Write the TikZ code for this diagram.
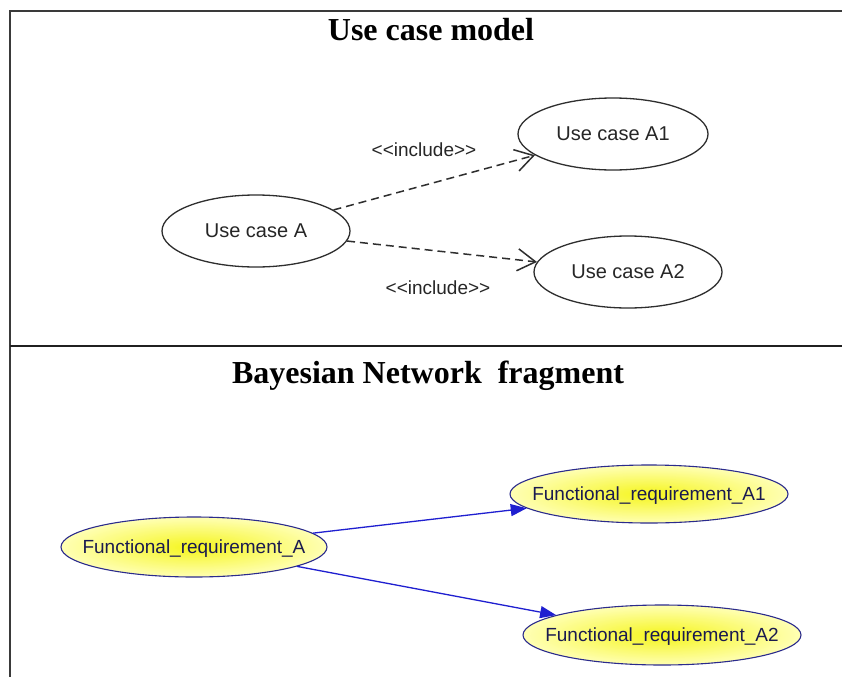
\documentclass[tikz,border=0pt]{standalone}
\usepackage{fontspec}
\setmainfont{Liberation Serif}
\setsansfont{Liberation Sans}
\usetikzlibrary{arrows.meta,shapes.geometric}
\definecolor{frameC}{HTML}{3A3A3A}
\definecolor{sepC}{HTML}{202020}
\definecolor{ucLine}{HTML}{2E2E2E}
\definecolor{bnBorder}{HTML}{2B2B8C}
\definecolor{bnArrow}{HTML}{1F1FD0}
\definecolor{bnText}{HTML}{1A1A50}
\definecolor{yelIn}{HTML}{F5F51E}
\definecolor{yelOut}{HTML}{FFFFB4}
\begin{document}
\begin{tikzpicture}[x=1pt,y=-1pt,
  frameline/.style={draw=frameC, line width=2pt},
  sepline/.style={draw=sepC, line width=2pt},
  titletext/.style={font=\fontsize{32}{36}\selectfont\bfseries, anchor=base, inner sep=0pt},
  uc/.style={ellipse, draw=ucLine, line width=1.3pt, inner sep=0pt,
    minimum width=188pt, minimum height=72pt,
    font=\sffamily\fontsize{20}{24}\selectfont, text=black!85},
  incl/.style={draw=ucLine, line width=1.5pt, dash pattern=on 8pt off 5pt,
    -{Straight Barb[length=18pt,width=22pt]}},
  incllabel/.style={font=\sffamily\fontsize{19}{22}\selectfont, text=black!85, inner sep=0pt},
  bn/.style={ellipse, draw=bnBorder, line width=1.1pt, inner sep=0pt,
    inner color=yelIn, outer color=yelOut,
    minimum width=276pt, minimum height=58pt},
  bntext/.style={font=\sffamily\fontsize{19}{22}\selectfont, text=bnText, inner sep=0pt},
  bnarrow/.style={draw=bnArrow, line width=1.3pt, -{Triangle[length=16pt,width=12pt]}}
]
\useasboundingbox (0,0) rectangle (842,677);
\fill[white] (0,0) rectangle (842,677);

% frame
\draw[frameline] (842,11) -- (10,11) -- (10,677);
\draw[sepline] (10,346) -- (842,346);

% titles
\node[titletext] (t1) at (431,41) {Use case model};
\node[titletext] (t2) at (428,383) {Bayesian Network~ fragment};

% use case model
\node[uc] (A) at (256,231) {Use case A};
\node[uc, minimum width=190pt] (A1) at (613,134) {Use case A1};
\node[uc] (A2) at (628,272) {Use case A2};
\draw[incl] (A) -- (A1);
\draw[incl] (A) -- (A2);
\node[incllabel] (l1) at (424,150) {<{}<include>{}>};
\node[incllabel] (l2) at (438,288) {<{}<include>{}>};

% bayesian network fragment
\node[bn, minimum width=266pt, minimum height=60pt] (F) at (194,547) {};
\node[bn, minimum width=278pt] (F1) at (649,494) {};
\node[bn, minimum width=278pt, minimum height=60pt] (F2) at (662,635) {};
\node[bntext] (Ft) at ([yshift=-2pt]F.center) {Functional\_requirement\_A};
\node[bntext] (F1t) at ([yshift=-2pt]F1.center) {Functional\_requirement\_A1};
\node[bntext] (F2t) at ([yshift=-2pt]F2.center) {Functional\_requirement\_A2};
\draw[bnarrow] (F) -- (F1);
\draw[bnarrow] (F) -- (F2);
\end{tikzpicture}
\end{document}
